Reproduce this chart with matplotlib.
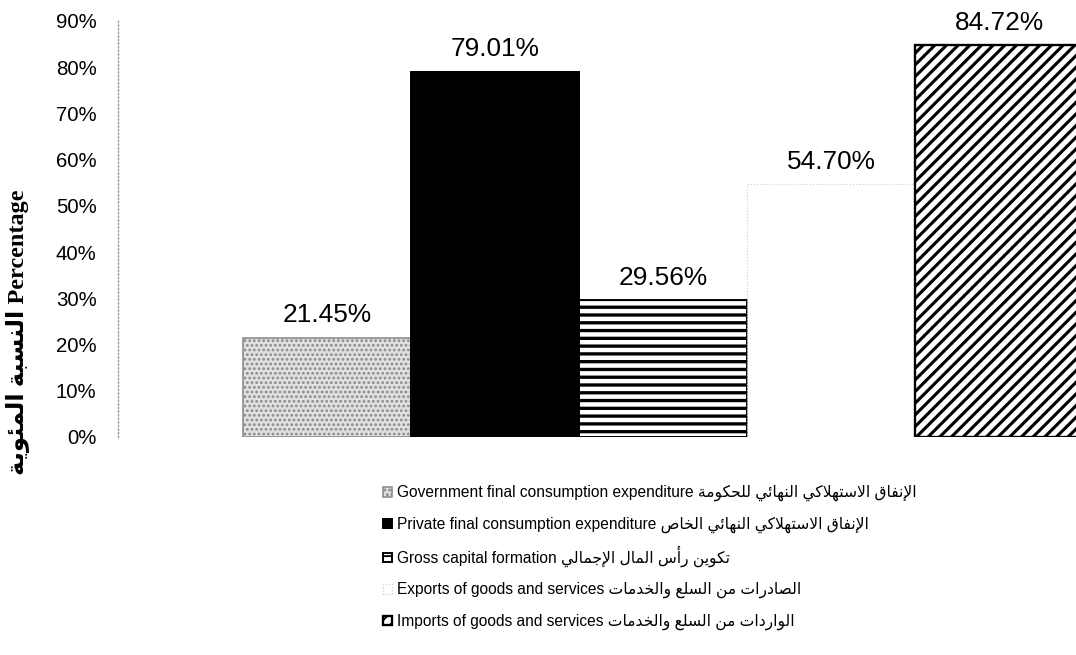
import matplotlib.pyplot as plt
from matplotlib.ticker import FuncFormatter
from matplotlib.legend_handler import HandlerPatch
from matplotlib.patches import Rectangle

# data
labels_en = ['Government final consumption expenditure',
             'Private final consumption expenditure',
             'Gross capital formation',
             'Exports of goods and services',
             'Imports of goods and services']
labels_ar = ['الإنفاق الاستهلاكي النهائي للحكومة',
             'الإنفاق الاستهلاكي النهائي الخاص',
             'تكوين رأس المال الإجمالي',
             'الصادرات من السلع والخدمات',
             'الواردات من السلع والخدمات']
values = [21.45, 79.01, 29.56, 54.70, 84.72]
ylabel_ar = 'النسبة المئوية'
ylabel_en = 'Percentage'

# simple arabic shaping (matplotlib has no text shaper)
_letters = 'ءآأؤإئابةتثجحخدذرزسشصضطظعغفقكلمنهوىي'
_nforms = [1, 2, 2, 2, 2, 4, 2, 4, 2, 4, 4, 4, 4, 4, 2, 2, 2, 2, 4, 4,
           4, 4, 4, 4, 4, 4, 4, 4, 4, 4, 4, 4, 4, 2, 2, 4]
FORMS = {}
_c = 0xFE80
for ch, n in zip(_letters, _nforms):
    FORMS[ch] = [chr(_c + i) for i in range(n)]
    _c += n
LAMALEF = {'آ': 0xFEF5, 'أ': 0xFEF7, 'إ': 0xFEF9, 'ا': 0xFEFB}


def ar(text):
    units = []
    i = 0
    while i < len(text):
        ch = text[i]
        if ch == 'ل' and i + 1 < len(text) and text[i + 1] in LAMALEF:
            b = LAMALEF[text[i + 1]]
            units.append([chr(b), chr(b + 1)])
            i += 2
            continue
        units.append(FORMS.get(ch, ch))
        i += 1
    out = []
    for k, u in enumerate(units):
        if isinstance(u, str):
            out.append(u)
            continue
        prev = k > 0 and isinstance(units[k - 1], list) and len(units[k - 1]) == 4
        nxt = (len(u) == 4 and k + 1 < len(units)
               and isinstance(units[k + 1], list) and len(units[k + 1]) >= 2)
        if prev and nxt:
            out.append(u[3])
        elif prev:
            out.append(u[1])
        elif nxt:
            out.append(u[2])
        else:
            out.append(u[0])
    return ''.join(out)[::-1]


def small_box(legend, orig_handle, xdescent, ydescent, width, height, fontsize):
    return Rectangle((-xdescent, -ydescent + (height - width) / 2), width, width)


plt.rcParams['font.family'] = ['Liberation Sans', 'DejaVu Sans']

fig = plt.figure(figsize=(1076 / 140, 655 / 140), dpi=140)
ax = fig.add_axes([118 / 1076, 1 - 437 / 655, 1 - 118 / 1076, (437 - 21) / 655])

styles = [
    dict(facecolor='#e0e0e0', edgecolor='#888888', hatch='.....', lw=0.8, hlw=0.9),
    dict(facecolor='black', edgecolor='black', hatch=None, lw=1.0, hlw=1.0),
    dict(facecolor='white', edgecolor='black', hatch='---', lw=1.0, hlw=1.7),
    dict(facecolor='white', edgecolor='#d0d0d0', hatch=None, lw=0.6, hlw=1.0),
    dict(facecolor='white', edgecolor='black', hatch='////', lw=1.2, hlw=1.6),
]

x = list(range(len(values)))
bars = []
legend_labels = []
for xi, v, st, en, a in zip(x, values, styles, labels_en, labels_ar):
    with plt.rc_context({'hatch.linewidth': st['hlw']}):
        b = ax.bar(xi, v, width=1.0, facecolor=st['facecolor'],
                   edgecolor=st['edgecolor'], hatch=st['hatch'],
                   linewidth=st['lw'])
    if xi == 3:
        b[0].set_linestyle(':')
    bars.append(b[0])
    legend_labels.append(en + ' ' + ar(a))
    ax.annotate(f'{v:.2f}%', (xi, v), xytext=(0, 8), textcoords='offset points',
                ha='center', va='baseline', fontsize=13.5)

ax.set_xlim(-1.244, 4.458)
ax.set_ylim(0, 90)
ax.set_yticks(range(0, 91, 10))
ax.yaxis.set_major_formatter(FuncFormatter(lambda v, p: f'{v:.0f}%'))
ax.tick_params(axis='y', length=0, pad=11, labelsize=10.5)
ax.set_xticks([])
for s in ['top', 'right', 'bottom']:
    ax.spines[s].set_visible(False)
ax.spines['left'].set_linestyle(':')
ax.spines['left'].set_color('#999999')
ax.spines['left'].set_linewidth(0.7)

fig.text(17 / 1076, 1 - 332 / 655, ar(ylabel_ar) + ' ' + ylabel_en, rotation=90,
         ha='center', va='center', fontsize=12.5, fontweight='bold',
         family=['Liberation Serif', 'DejaVu Sans'])

fig.legend(bars, legend_labels, loc='upper left', bbox_to_anchor=(383 / 1076, 1 - 482 / 655),
           frameon=False, fontsize=8, handlelength=0.6, handleheight=1.6,
           handletextpad=0.3, labelspacing=0.75, borderpad=0, borderaxespad=0,
           handler_map={Rectangle: HandlerPatch(patch_func=small_box)})

fig.savefig('out.png', dpi=140)
